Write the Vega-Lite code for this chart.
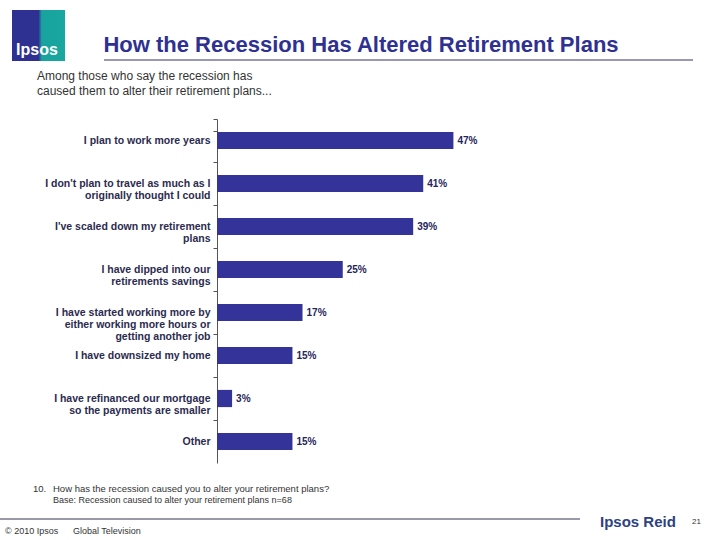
{
  "$schema": "https://vega.github.io/schema/vega-lite/v6.json",
  "autosize": "none",
  "width": 503,
  "height": 344,
  "padding": {"left": 217, "top": 119, "right": 0, "bottom": 77},
  "background": "white",
  "config": {"view": {"stroke": null}, "font": "Liberation Sans"},
  "data": {
    "values": [
      {"label": "I plan to work more years", "pct": 47},
      {"label": "I don't plan to travel as much as I|originally thought I could", "pct": 41},
      {"label": "I've scaled down my retirement|plans", "pct": 39},
      {"label": "I have dipped into our|retirements savings", "pct": 25},
      {"label": "I have started working more by|either working more hours or|getting another job", "pct": 17},
      {"label": "I have downsized my home", "pct": 15},
      {"label": "I have refinanced our mortgage|so the payments are smaller", "pct": 3},
      {"label": "Other", "pct": 15}
    ]
  },
  "encoding": {
    "y": {
      "field": "label", "type": "nominal", "sort": null,
      "scale": {"paddingInner": 0.6, "paddingOuter": 0.3},
      "axis": {
        "title": null,
        "labelExpr": "split(datum.label, '|')",
        "labelFont": "Liberation Sans",
        "labelFontSize": 10.5,
        "labelFontWeight": "bold",
        "labelColor": "#2b2b4f",
        "labelLineHeight": 12,
        "labelPadding": 3,
        "labelLimit": 200,
        "tickSize": 4,
        "tickColor": "#555555",
        "domainColor": "#555555",
        "bandPosition": -0.75,
        "tickExtra": true,
        "grid": false
      }
    },
    "x": {
      "field": "pct", "type": "quantitative",
      "scale": {"domain": [0, 100]},
      "axis": null
    }
  },
  "layer": [
    {"mark": {"type": "bar", "color": "#333399"}},
    {
      "mark": {"type": "text", "align": "left", "dx": 4, "fontSize": 10, "fontWeight": "bold", "color": "#25255a", "baseline": "middle", "text": {"expr": "datum.pct + '%'"}}
    },
    {
      "data": {"values": [{}]},
      "layer": [
        {
          "mark": {"type": "rect", "color": {"gradient": "linear", "x1": 0, "x2": 1, "y1": 0, "y2": 0, "stops": [{"offset": 0, "color": "#2e3192"}, {"offset": 0.5, "color": "#2e3192"}, {"offset": 0.56, "color": "#19a39e"}, {"offset": 1, "color": "#19a7a0"}]}},
          "encoding": {"x": {"value": -205}, "x2": {"value": -152}, "y": {"value": -109}, "y2": {"value": -58}}
        },
        {
          "mark": {"type": "text", "align": "center", "baseline": "alphabetic", "fontSize": 16, "fontWeight": "bold", "color": "white", "font": "Liberation Sans"},
          "encoding": {"text": {"value": "Ipsos"}, "x": {"value": -180}, "y": {"value": -64}}
        },
        {
          "mark": {"type": "text", "align": "center", "baseline": "alphabetic", "fontSize": 22, "fontWeight": "bold", "color": "#2e3192"},
          "encoding": {"text": {"value": "How the Recession Has Altered Retirement Plans"}, "x": {"value": 144}, "y": {"value": -67}}
        },
        {
          "mark": {"type": "rule", "color": "#333366", "strokeWidth": 1},
          "encoding": {"x": {"value": -113}, "x2": {"value": 476}, "y": {"value": -59}}
        },
        {
          "mark": {"type": "text", "align": "left", "baseline": "alphabetic", "fontSize": 12, "color": "#333333", "lineHeight": 15},
          "encoding": {"text": {"value": ["Among those who say the recession has", "caused them to alter their retirement plans..."]}, "x": {"value": -180}, "y": {"value": -39}}
        },
        {
          "mark": {"type": "text", "align": "left", "baseline": "alphabetic", "fontSize": 9.5, "color": "#333333"},
          "encoding": {"text": {"value": "10."}, "x": {"value": -184}, "y": {"value": 373}}
        },
        {
          "mark": {"type": "text", "align": "left", "baseline": "alphabetic", "fontSize": 9.5, "color": "#333333"},
          "encoding": {"text": {"value": "How has the recession caused you to alter your retirement plans?"}, "x": {"value": -164}, "y": {"value": 373}}
        },
        {
          "mark": {"type": "text", "align": "left", "baseline": "alphabetic", "fontSize": 9, "color": "#333333"},
          "encoding": {"text": {"value": "Base:  Recession caused to alter your retirement plans n=68"}, "x": {"value": -164}, "y": {"value": 384}}
        },
        {
          "mark": {"type": "rule", "color": "#333355", "strokeWidth": 1},
          "encoding": {"x": {"value": -217}, "x2": {"value": 363}, "y": {"value": 400}}
        },
        {
          "mark": {"type": "text", "align": "left", "baseline": "alphabetic", "fontSize": 9, "color": "#333333"},
          "encoding": {"text": {"value": "© 2010 Ipsos"}, "x": {"value": -212}, "y": {"value": 415}}
        },
        {
          "mark": {"type": "text", "align": "left", "baseline": "alphabetic", "fontSize": 9, "color": "#333333"},
          "encoding": {"text": {"value": "Global Television"}, "x": {"value": -144}, "y": {"value": 415}}
        },
        {
          "mark": {"type": "text", "align": "left", "baseline": "alphabetic", "fontSize": 15, "fontWeight": "bold", "color": "#2d4282"},
          "encoding": {"text": {"value": "Ipsos Reid"}, "x": {"value": 383}, "y": {"value": 408}}
        },
        {
          "mark": {"type": "text", "align": "left", "baseline": "alphabetic", "fontSize": 8, "color": "#333333"},
          "encoding": {"text": {"value": "21"}, "x": {"value": 475}, "y": {"value": 405}}
        }
      ]
    }
  ]
}
